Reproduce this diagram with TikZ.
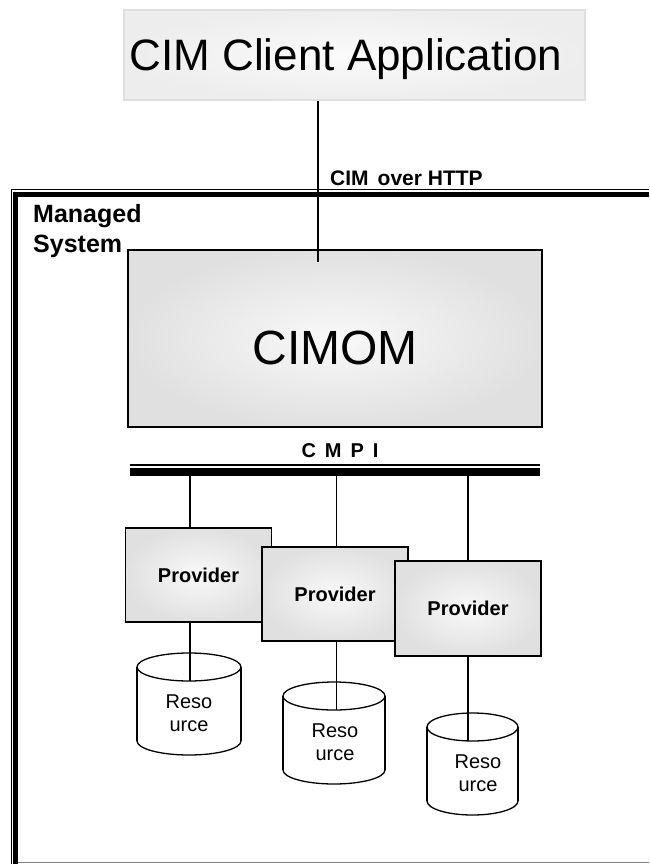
\documentclass[tikz,border=0pt]{standalone}
\usepackage{fontspec}
\setmainfont{Liberation Sans}
\usetikzlibrary{shadings}
\newcommand\rescyl[6]{% #1 cx, #2 rx, #3 top, #4 bottom, #5 line x, #6 name
  \fill[white,draw=black,line width=1.3pt] (#1,#4) ellipse[x radius=#2pt, y radius=14pt];
  \fill[white] ({#1-#2},#3) rectangle ({#1+#2},#4);
  \draw[line width=1.3pt] ({#1-#2},#3) -- ({#1-#2},#4) ({#1+#2},#3) -- ({#1+#2},#4);
  \draw[fill=white,line width=1.3pt] (#1,#3) ellipse[x radius=#2pt, y radius=14pt];
  \coordinate (#6) at (#5,{#3+14});
}
\begin{document}
\begin{tikzpicture}[x=1pt,y=-1pt,
  graybox/.style={draw=black, line width=1.3pt, shading=radial, inner color=gray!5, outer color=gray!24, inner sep=0pt},
  provbox/.style={graybox, minimum width=146pt, minimum height=94pt, font=\fontsize{20}{24}\selectfont\bfseries},
  restext/.style={anchor=base, inner sep=0pt, font=\fontsize{20}{24}\selectfont},
  conn/.style={draw=black, line width=1.3pt}]
\useasboundingbox (0,0) rectangle (649,864);
\fill[white] (0,0) rectangle (649,864);

% Managed system frame
\draw[line width=1pt] (11,864) -- (11,189) -- (649,189);
\draw[line width=4.5pt] (15.5,864) -- (15.5,194.5) -- (649,194.5);
\draw[line width=1pt, gray] (18,862.5) -- (649,862.5);
\node[anchor=base west, inner sep=0pt, font=\fontsize{25}{30}\selectfont\bfseries] (managed1) at (33,222) {Managed};
\node[anchor=base west, inner sep=0pt, font=\fontsize{25}{30}\selectfont\bfseries] (managed2) at (33,252) {System};

% Client application
\node[draw=gray!25, line width=1.5pt, shading=radial, inner color=gray!3, outer color=gray!14,
      minimum width=461pt, minimum height=90pt, inner sep=0pt] (client) at (354.5,55) {};
\node[inner sep=0pt, font=\fontsize{44}{50}\selectfont] (clienttext) at (346,59) {CIM Client Application};

% CIMOM
\node[graybox, minimum width=414pt, minimum height=177pt] (cimom) at (335,338.5) {};
\node[inner sep=0pt, font=\fontsize{48}{54}\selectfont] (cimomtext) at (335,348) {CIMOM};
\coordinate (httpend) at (318,262);
\draw[conn] (client.south -| httpend) -- (httpend);
\node[anchor=base west, inner sep=0pt, font=\fontsize{21}{25}\selectfont\bfseries] (http) at (330,185) {CIM\hspace{9pt}over HTTP};

% CMPI bus
\node[inner sep=0pt, font=\fontsize{20}{24}\selectfont\bfseries] (cmpi) at (340,451) {C\hspace{9pt}M\hspace{9pt}P\hspace{9pt}I};
\draw[line width=1.2pt] (130,465) -- (540,465);
\draw[line width=7.5pt] (130,472) -- (540,472);
\coordinate (bus1) at (190,472);
\coordinate (bus2) at (336.5,472);
\coordinate (bus3) at (468,472);

% Providers
\node[provbox] (p1) at (198.5,575) {Provider};
\draw[conn] (bus1) -- (bus1 |- p1.north);
\node[provbox] (p2) at (335,594) {Provider};
\draw[conn] (bus2) -- (bus2 |- p2.north);
\node[provbox, minimum height=95pt] (p3) at (468,608.5) {Provider};
\draw[conn] (bus3) -- (bus3 |- p3.north);

% Resources
\rescyl{189}{52}{667}{741}{190}{r1}
\draw[conn] (p1.south -| r1) -- (r1);
\node[restext] (r1a) at (189,708) {Reso};
\node[restext] (r1b) at (189,731) {urce};

\rescyl{334}{51}{696}{770}{336.5}{r2}
\draw[conn] (p2.south -| r2) -- (r2);
\node[restext] (r2a) at (335,737) {Reso};
\node[restext] (r2b) at (335,760) {urce};

\rescyl{472.5}{45.5}{727}{801}{468}{r3}
\draw[conn] (p3.south -| r3) -- (r3);
\node[restext] (r3a) at (478,768) {Reso};
\node[restext] (r3b) at (478,791) {urce};
\end{tikzpicture}
\end{document}
